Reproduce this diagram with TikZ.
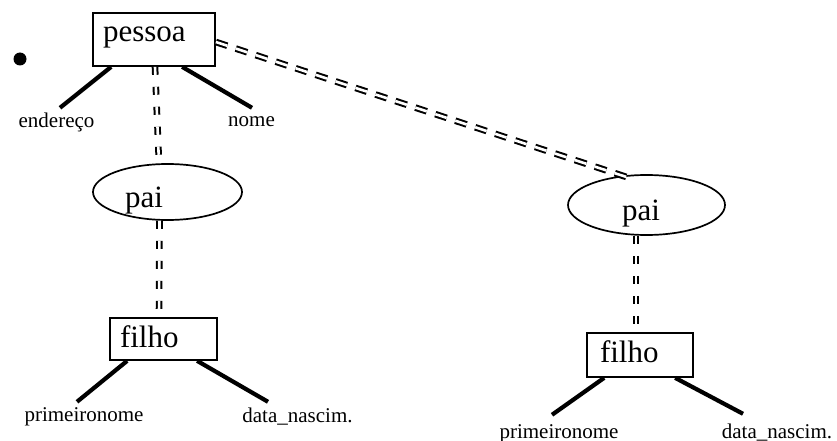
\documentclass[tikz,border=0pt]{standalone}
\usepackage{fontspec}
\setmainfont{Liberation Serif}
\usetikzlibrary{shapes.geometric}

\tikzset{
  big/.style={font=\fontsize{31}{31}\selectfont},
  small/.style={font=\fontsize{21}{21}\selectfont},
  entbox/.style={big, draw, line width=1.7pt, rectangle, inner ysep=0pt, align=left},
  relell/.style={big, draw, line width=1.7pt, ellipse, inner sep=0pt, align=left,
                 text height=30pt, text depth=0pt},
  attr/.style={small, inner sep=2pt, text height=14pt, text depth=5pt, anchor=base},
  attrline/.style={line width=4.2pt},
  dblv/.style={draw, line width=2pt, double distance=2.6pt, dash pattern=on 8pt off 12pt},
  dbld/.style={draw, line width=2pt, double distance=2.6pt, dash pattern=on 12pt off 9pt},
}

\begin{document}
\begin{tikzpicture}[x=1pt, y=-1pt]
\useasboundingbox (0,0) rectangle (837,441);

% bullet
\node[circle, fill, minimum size=13pt, inner sep=0pt] (dot) at (20,59) {};

% entities and relationships
\node[entbox, minimum width=122pt, minimum height=53pt, text width=102pt, inner xsep=10pt,
      text height=11pt, text depth=7pt] (pessoa) at (154,39.5) {pessoa};
\node[relell, minimum width=149pt, minimum height=56pt, text width=85pt] (paiL) at (167.5,192) {pai};
\node[entbox, minimum width=107pt, minimum height=42pt, text width=87pt, inner xsep=10pt,
      text height=21pt, text depth=5pt] (filhoL) at (163.5,339) {filho};

\node[relell, minimum width=157pt, minimum height=60pt, text width=49pt] (paiR) at (646.5,205) {pai};
\node[entbox, minimum width=106pt, minimum height=44pt, text width=80pt, inner xsep=13pt,
      text height=21pt, text depth=7pt] (filhoR) at (640,355) {filho};

% attribute labels
\node[attr] (endr)  at (56.5,128)  {endereço};
\node[attr] (nome)  at (251.5,127) {nome};
\node[attr] (primL) at (84,421.5)  {primeironome};
\node[attr] (dataL) at (297.5,422) {data\_nascim.};
\node[attr] (primR) at (559,438)   {primeironome};
\node[attr] (dataR) at (777,438)   {data\_nascim.};

% attribute connectors
\draw[attrline] ([xshift=19pt]pessoa.south west) -- ([xshift=3.5pt,yshift=4pt]endr.north);
\draw[attrline] ([xshift=90pt]pessoa.south west) -- ([xshift=0.5pt,yshift=3pt]nome.north);
\draw[attrline] ([xshift=18pt]filhoL.south west) -- ([xshift=-7pt,yshift=3.5pt]primL.north);
\draw[attrline] ([xshift=88pt]filhoL.south west) -- ([xshift=-29.5pt,yshift=4pt]dataL.north);
\draw[attrline] ([xshift=18pt]filhoR.south west) -- ([xshift=-7pt,yshift=7pt]primR.north);
\draw[attrline] ([xshift=89pt]filhoR.south west) -- ([xshift=-34pt,yshift=8pt]dataR.north);

% double (total participation) links
\draw[dblv] ([xshift=1pt]pessoa.south) -- ([xshift=-8.5pt]paiL.north);
\draw[dblv] ([xshift=-8pt]paiL.south) -- ([xshift=-4.5pt]filhoL.north);
\draw[dblv] ([xshift=-10.5pt]paiR.south) -- ([xshift=-4pt]filhoR.north);
\draw[dbld] ([yshift=-2.5pt]pessoa.east) -- ([xshift=-13.5pt,yshift=-5pt]paiR.north);
\end{tikzpicture}
\end{document}
